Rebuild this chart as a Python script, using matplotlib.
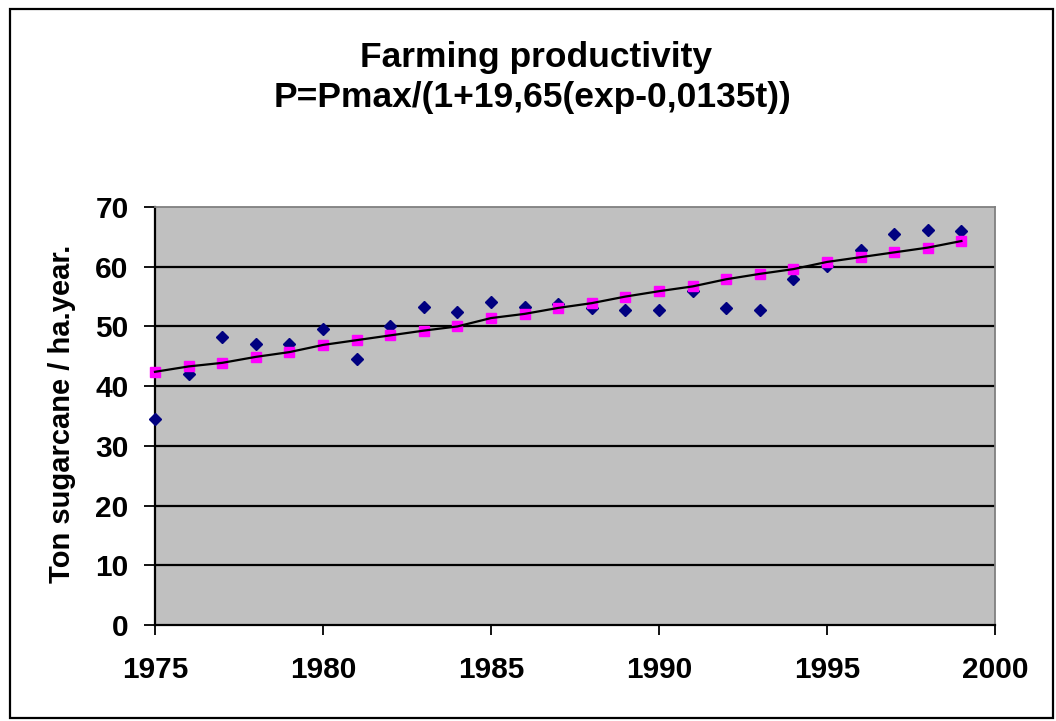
import matplotlib
matplotlib.use("Agg")
import matplotlib.pyplot as plt
from matplotlib.patches import Rectangle

plt.rcParams['font.family'] = ['Liberation Sans', 'DejaVu Sans']

years = list(range(1975, 2000))
observed = [34.5, 42.1, 48.3, 47.1, 47.1, 49.6, 44.6, 50.0, 53.2, 52.4,
            54.1, 53.3, 53.7, 53.1, 52.8, 52.7, 55.9, 53.1, 52.8, 57.9,
            60.2, 62.8, 65.4, 66.1, 65.9]
fitted = [42.4, 43.3, 43.9, 44.9, 45.7, 46.9, 47.7, 48.5, 49.3, 50.0,
          51.4, 52.1, 53.1, 53.9, 55.0, 55.9, 56.7, 57.9, 58.8, 59.6,
          60.8, 61.6, 62.4, 63.2, 64.3]
x_ticks = [1975, 1980, 1985, 1990, 1995, 2000]
y_ticks = [0, 10, 20, 30, 40, 50, 60, 70]

W, H = 1056, 721
fig = plt.figure(figsize=(W / 100, H / 100), dpi=100)
ax = fig.add_axes([155 / W, 1 - 625 / H, 840 / W, 418 / H])
ax.set_facecolor('#c0c0c0')

# gridlines
for v in y_ticks[1:-1]:
    ax.axhline(v, color='black', lw=1.6, zorder=1)

ax.plot(years, observed, linestyle='none', marker='D', ms=6,
        color='#000080', zorder=3, clip_on=False)
ax.plot(years, fitted, linestyle='none', marker='s', ms=6.5,
        color='#ff00ff', zorder=4, clip_on=False)
ax.plot(years, fitted, color='black', lw=1.6, zorder=5, clip_on=False)

ax.set_xlim(1975, 2000)
ax.set_ylim(0, 70)
ax.set_xticks(x_ticks)
ax.set_yticks(y_ticks)
ax.tick_params(axis='x', direction='out', length=7.5, width=1.3, pad=15,
               labelsize=21.5)
ax.tick_params(axis='y', direction='out', length=8, width=1.3, pad=11,
               labelsize=21.5)
for lab in ax.get_xticklabels() + ax.get_yticklabels():
    lab.set_fontweight('bold')

ax.spines['left'].set_color('black')
ax.spines['left'].set_linewidth(1.6)
ax.spines['bottom'].set_color('black')
ax.spines['bottom'].set_linewidth(1.6)
ax.spines['top'].set_color('#808080')
ax.spines['top'].set_linewidth(1.3)
ax.spines['right'].set_color('#808080')
ax.spines['right'].set_linewidth(1.3)

fig.text(62 / W, 1 - 414 / H, 'Ton sugarcane / ha.year.', rotation=90,
         ha='center', va='center', fontsize=21, fontweight='bold')

fig.text(536 / W, 1 - 67 / H, 'Farming productivity', ha='center',
         va='baseline', fontsize=25.5, fontweight='bold')
fig.text(532 / W, 1 - 107 / H, 'P=Pmax/(1+19,65(exp-0,0135t))', ha='center',
         va='baseline', fontsize=25.5, fontweight='bold')

# outer chart frame
fig.patches.append(Rectangle((10 / W, 1 - 718 / H), 1043 / W, 709 / H,
                             transform=fig.transFigure, fill=False,
                             edgecolor='black', lw=1.6))

fig.savefig('out.png', dpi=100)
